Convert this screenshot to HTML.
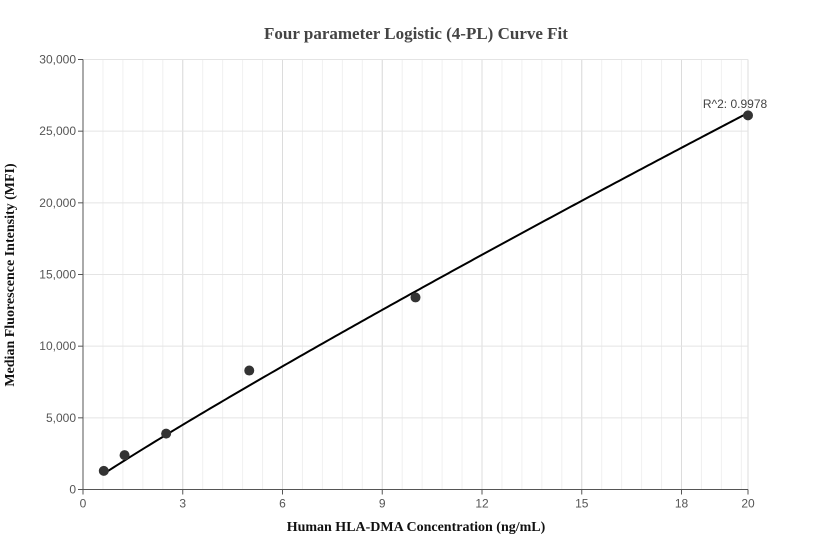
<!DOCTYPE html>
<html><head><meta charset="utf-8"><style>
body{margin:0;background:#fff;}
svg{display:block;font-family:"Liberation Sans",sans-serif;}
</style></head><body>
<svg id="chart" width="832" height="560" viewBox="0 0 832 560">
<text x="416" y="39" text-anchor="middle" font-family="Liberation Serif,serif" font-weight="bold" font-size="17" fill="#444">Four parameter Logistic (4-PL) Curve Fit</text>
<g id="grid"></g>
<g id="axes"></g>
<g id="marks"></g>
<text x="416" y="531" text-anchor="middle" font-family="Liberation Serif,serif" font-weight="bold" font-size="14" fill="#111">Human HLA-DMA Concentration (ng/mL)</text>
<text transform="translate(14,275) rotate(-90)" text-anchor="middle" font-family="Liberation Serif,serif" font-weight="bold" font-size="14" fill="#111">Median Fluorescence Intensity (MFI)</text>
<text x="735" y="108" text-anchor="middle" font-size="12" fill="#444">R^2: 0.9978</text>
</svg>
<script>
const xs = [0.625, 1.25, 2.5, 5, 10, 20];
const ys = [1300, 2400, 3900, 8300, 13400, 26100];
const xTicks = [0, 3, 6, 9, 12, 15, 18, 20];
const yTicks = [0, 5000, 10000, 15000, 20000, 25000, 30000];
const fitParams = [100, 0.95, 900, 1000000];
const NS = "http://www.w3.org/2000/svg";
const X0 = 83, X1 = 748, Y0 = 489.5, Y1 = 59.5;
const sx = v => X0 + (v / 20) * (X1 - X0);
const sy = v => Y0 - (v / 30000) * (Y0 - Y1);
function mk(tag, attrs, parent) {
  const e = document.createElementNS(NS, tag);
  for (const k in attrs) e.setAttribute(k, attrs[k]);
  parent.appendChild(e);
  return e;
}
const grid = document.getElementById('grid'), axes = document.getElementById('axes'), marks = document.getElementById('marks');
for (let v = 0.6; v < 20; v += 0.6) {
  const g = mk('line', {x1: sx(v), x2: sx(v), y1: Y1, y2: Y0, stroke: '#f0f0f0', 'stroke-width': 1}, grid);
  
  
}
xTicks.forEach(t => {
  const g = mk('line', {x1: sx(t), x2: sx(t), y1: Y1, y2: Y0, stroke: '#dcdcdc', 'stroke-width': 1}, grid);
  
  
  const tk = mk('line', {x1: sx(t), x2: sx(t), y1: Y0, y2: Y0 + 5, stroke: '#555'}, axes);
  
  
  const tx = mk('text', {x: sx(t), y: Y0 + 18, 'text-anchor': 'middle', 'font-size': 12, fill: '#555'}, axes);
  tx.textContent = t;
  
  
});
yTicks.forEach(t => {
  const g = mk('line', {x1: X0, x2: X1, y1: sy(t), y2: sy(t), stroke: '#e4e4e4', 'stroke-width': 1}, grid);
  
  
  const tk = mk('line', {x1: X0 - 5, x2: X0, y1: sy(t), y2: sy(t), stroke: '#555'}, axes);
  
  
  const tx = mk('text', {x: X0 - 7, y: sy(t) + 4, 'text-anchor': 'end', 'font-size': 12, fill: '#555'}, axes);
  tx.textContent = t.toLocaleString('en-US');
  
  
});
const xa = mk('line', {x1: X0, x2: X1, y1: Y0, y2: Y0, stroke: '#555'}, axes);


const ya = mk('line', {x1: X0, x2: X0, y1: Y1, y2: Y0, stroke: '#555'}, axes);


const [a, b, c, d] = fitParams;
const f = x => d + (a - d) / (1 + Math.pow(x / c, b));
let pts = [];
const xmin = Math.min(...xs), xmax = Math.max(...xs);
for (let i = 0; i <= 200; i++) {
  const x = xmin + (xmax - xmin) * i / 200;
  pts.push(sx(x).toFixed(2) + ',' + sy(f(x)).toFixed(2));
}
const curve = mk('polyline', {points: pts.join(' '), fill: 'none', stroke: '#000', 'stroke-width': 2}, marks);


xs.forEach((x, i) => {
  const p = mk('circle', {cx: sx(x), cy: sy(ys[i]), r: 5, fill: '#333'}, marks);
  
  
});
</script>
</body></html>
